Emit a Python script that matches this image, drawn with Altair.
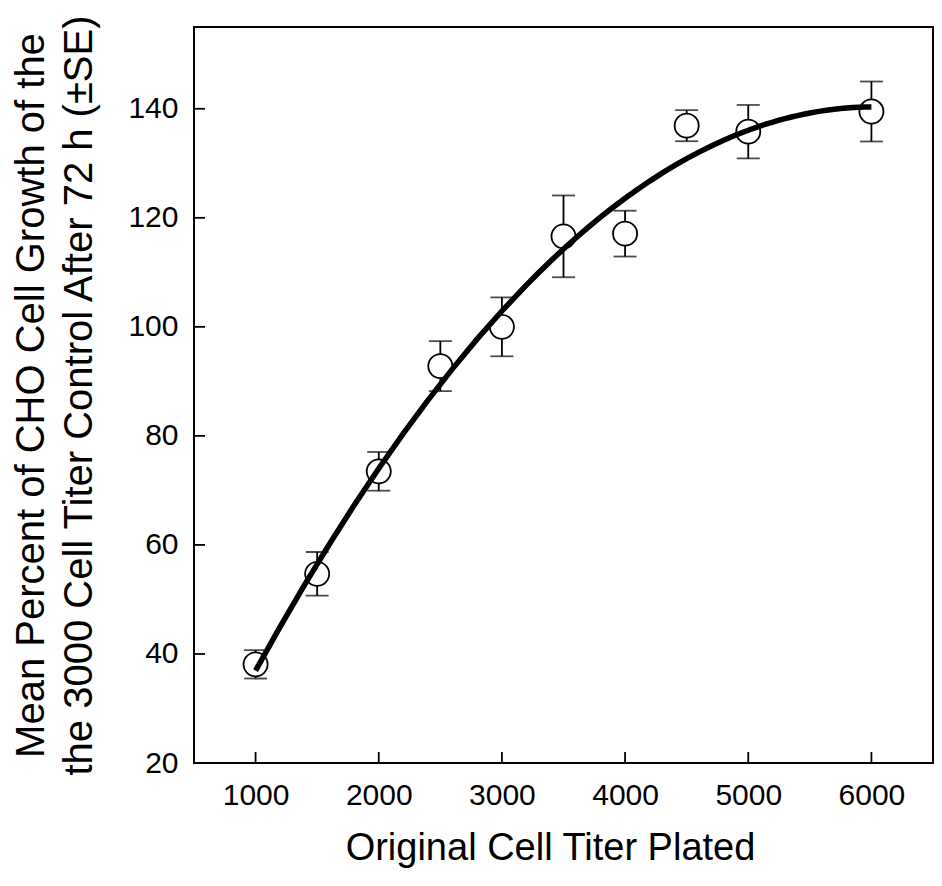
import altair as alt
import pandas as pd

# data
titer = [1000, 1500, 2000, 2500, 3000, 3500, 4000, 4500, 5000, 6000]
mean_pct = [38.1, 54.7, 73.5, 92.8, 100.0, 116.6, 117.1, 136.9, 135.8, 139.5]
se_pct = [2.6, 4.0, 3.55, 4.6, 5.4, 7.5, 4.2, 2.85, 4.9, 5.5]

x_ticks = [1000, 2000, 3000, 4000, 5000, 6000]
y_ticks = [20, 40, 60, 80, 100, 120, 140]

W, H = 739, 736
FONT = "Liberation Sans"

df = pd.DataFrame({"titer": titer, "mean": mean_pct, "se": se_pct})
xt = pd.DataFrame({"v": x_ticks})
yt = pd.DataFrame({"v": y_ticks})

xscale = alt.Scale(domain=[500, 6500], nice=False, zero=False)
yscale = alt.Scale(domain=[20, 155], nice=False, zero=False)

xaxis = alt.Axis(values=x_ticks, ticks=False, domain=False, grid=False,
                 labelFont=FONT, labelFontSize=30, labelColor="black",
                 labelPadding=17, title="Original Cell Titer Plated",
                 titleFont=FONT, titleFontSize=38, titleFontWeight="normal",
                 titleColor="black", titlePadding=19, titleX=356,
                 format="d")
yaxis = alt.Axis(values=y_ticks, ticks=False, domain=False, grid=False,
                 labelFont=FONT, labelFontSize=30, labelColor="black",
                 labelPadding=16,
                 title=["Mean Percent of CHO Cell Growth of the",
                        "the 3000 Cell Titer Control After 72 h (±SE)"],
                 titleFont=FONT, titleFontSize=40, titleFontWeight="normal",
                 titleColor="black", titleLineHeight=48, titlePadding=28)

base = alt.Chart(df)

bars = base.transform_calculate(
    lo="datum.mean - datum.se", hi="datum.mean + datum.se"
).mark_rule(color="black", strokeWidth=1.8).encode(
    x=alt.X("titer:Q", scale=xscale, axis=xaxis),
    y=alt.Y("lo:Q", scale=yscale, axis=yaxis),
    y2="hi:Q",
)

caps_lo = base.transform_calculate(lo="datum.mean - datum.se").mark_tick(
    color="black", orient="horizontal", size=23, thickness=1.8
).encode(x=alt.X("titer:Q", scale=xscale), y=alt.Y("lo:Q", scale=yscale))

caps_hi = base.transform_calculate(hi="datum.mean + datum.se").mark_tick(
    color="black", orient="horizontal", size=23, thickness=1.8
).encode(x=alt.X("titer:Q", scale=xscale), y=alt.Y("hi:Q", scale=yscale))

points = base.mark_point(
    shape="circle", size=580, filled=False, fill="white", fillOpacity=1,
    stroke="black", strokeWidth=1.8, opacity=1
).encode(x=alt.X("titer:Q", scale=xscale), y=alt.Y("mean:Q", scale=yscale))

curve = base.transform_regression(
    "titer", "mean", method="poly", order=2
).mark_line(color="black", strokeWidth=5.5).encode(
    x=alt.X("titer:Q", scale=xscale), y=alt.Y("mean:Q", scale=yscale)
)

xtick_marks = alt.Chart(xt).mark_rule(color="black", strokeWidth=1.8).encode(
    x=alt.X("v:Q", scale=xscale), y=alt.value(H), y2=alt.value(H - 11)
)
ytick_marks = alt.Chart(yt).mark_rule(color="black", strokeWidth=1.8).encode(
    y=alt.Y("v:Q", scale=yscale), x=alt.value(0), x2=alt.value(11)
)

chart = alt.layer(
    xtick_marks, ytick_marks, bars, caps_lo, caps_hi, points, curve
).properties(
    width=W, height=H,
    background="white",
    autosize=alt.AutoSizeParams(type="none"),
    padding={"left": 186, "top": 19, "right": 1, "bottom": 114},
).configure_view(
    stroke="black", strokeWidth=2
)

chart.save("out.html", embed_options={"renderer": "svg", "actions": False})
